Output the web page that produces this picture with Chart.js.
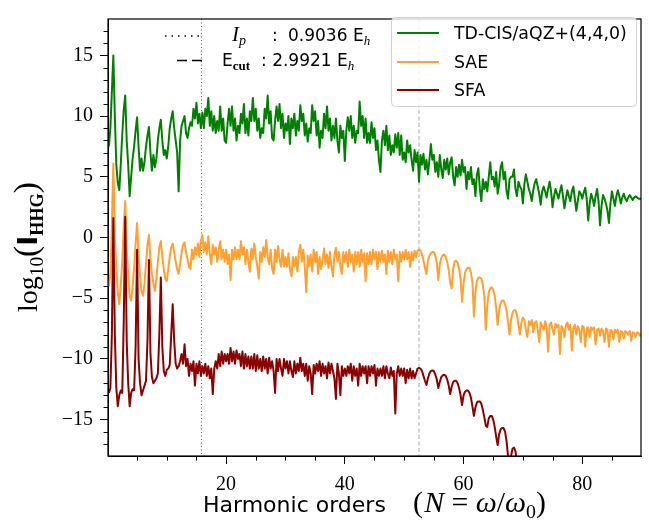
<!DOCTYPE html>
<html><head><meta charset="utf-8">
<script src="https://cdn.jsdelivr.net/npm/chart.js@4/dist/chart.umd.min.js"></script>
<style>html,body{margin:0;padding:0;background:#fff}#wrap{width:649px;height:525px}</style>
</head><body><div id="wrap"><canvas id="c" width="649" height="525"></canvas></div>
<script>
// ---- data ----
const harmonics = [
0.25,0.5,0.75,1,1.25,1.5,1.75,2, 2.25,2.5,2.75,3,3.25,3.5,3.75,4,
4.25,4.5,4.75,5,5.25,5.5,5.75,6, 6.25,6.5,6.75,7,7.25,7.5,7.75,8,
8.25,8.5,8.75,9,9.25,9.5,9.75,10, 10.25,10.5,10.75,11,11.25,11.5,11.75,12,
12.25,12.5,12.75,13,13.25,13.5,13.75,14, 14.25,14.5,14.75,15,15.25,15.5,15.75,16,
16.25,16.5,16.75,17,17.25,17.5,17.75,18, 18.25,18.5,18.75,19,19.25,19.5,19.75,20,
20.25,20.5,20.75,21,21.25,21.5,21.75,22, 22.25,22.5,22.75,23,23.25,23.5,23.75,24,
24.25,24.5,24.75,25,25.25,25.5,25.75,26, 26.25,26.5,26.75,27,27.25,27.5,27.75,28,
28.25,28.5,28.75,29,29.25,29.5,29.75,30, 30.25,30.5,30.75,31,31.25,31.5,31.75,32,
32.25,32.5,32.75,33,33.25,33.5,33.75,34, 34.25,34.5,34.75,35,35.25,35.5,35.75,36,
36.25,36.5,36.75,37,37.25,37.5,37.75,38, 38.25,38.5,38.75,39,39.25,39.5,39.75,40,
40.25,40.5,40.75,41,41.25,41.5,41.75,42, 42.25,42.5,42.75,43,43.25,43.5,43.75,44,
44.25,44.5,44.75,45,45.25,45.5,45.75,46, 46.25,46.5,46.75,47,47.25,47.5,47.75,48,
48.25,48.5,48.75,49,49.25,49.5,49.75,50, 50.25,50.5,50.75,51,51.25,51.5,51.75,52,
52.25,52.5,52.75,53,53.25,53.5,53.75,54, 54.25,54.5,54.75,55,55.25,55.5,55.75,56,
56.25,56.5,56.75,57,57.25,57.5,57.75,58, 58.25,58.5,58.75,59,59.25,59.5,59.75,60,
60.25,60.5,60.75,61,61.25,61.5,61.75,62, 62.25,62.5,62.75,63,63.25,63.5,63.75,64,
64.25,64.5,64.75,65,65.25,65.5,65.75,66, 66.25,66.5,66.75,67,67.25,67.5,67.75,68,
68.25,68.5,68.75,69,69.25,69.5,69.75,70, 70.25,70.5,70.75,71,71.25,71.5,71.75,72,
72.25,72.5,72.75,73,73.25,73.5,73.75,74, 74.25,74.5,74.75,75,75.25,75.5,75.75,76,
76.25,76.5,76.75,77,77.25,77.5,77.75,78, 78.25,78.5,78.75,79,79.25,79.5,79.75,80,
80.25,80.5,80.75,81,81.25,81.5,81.75,82, 82.25,82.5,82.75,83,83.25,83.5,83.75,84,
84.25,84.5,84.75,85,85.25,85.5,85.75,86, 86.25,86.5,86.75,87,87.25,87.5,87.75,88,
88.25,88.5,88.75,89,89.25,89.5,89.75,90];

const tdcis = [
7.5,9.0,12.0,15.0,10.0,6.0,4.5,3.9, 6.0,8.5,10.5,11.7,8.0,6.0,3.4,5.0,
6.5,7.5,8.8,9.9,7.5,5.5,6.5,5.5, 6.2,7.5,8.4,9.1,7.0,5.5,6.8,5.8,
6.5,8.0,9.0,9.7,8.0,6.8,7.2,6.5, 7.5,9.0,9.8,10.4,9.0,8.0,7.0,3.8,
8.0,9.2,9.6,10.0,8.6,8.2,9.0,9.5, 9.2,10.6,9.8,11.1,9.4,10.2,9.0,10.3,
9.0,10.6,10.0,11.5,9.2,10.4,8.8,10.0, 8.6,9.6,8.8,10.8,8.8,9.8,8.0,7.8,
9.4,10.6,9.2,10.8,8.8,9.8,8.0,9.2, 8.6,10.2,9.4,11.0,8.6,9.8,8.4,10.4,
9.6,11.5,9.6,10.6,8.8,9.8,8.2,9.0, 8.6,10.6,9.8,11.7,9.4,10.4,8.2,8.0,
9.6,10.8,9.6,11.0,9.0,10.2,8.2,9.4, 8.8,10.0,7.7,9.8,9.0,10.2,8.4,9.6,
8.8,10.9,9.6,10.2,8.4,9.4,7.9,9.0, 8.6,10.9,9.6,10.4,8.4,9.6,7.4,8.8,
8.2,10.2,9.0,10.8,8.8,9.8,8.0,9.2, 8.2,9.8,8.0,7.0,9.2,8.2,8.8,6.3,
8.8,9.9,8.8,10.0,8.2,9.2,7.8,8.8, 8.6,11.2,9.2,10.0,8.2,9.8,7.8,8.6,
7.8,9.5,8.2,9.0,7.2,8.0,6.4,5.4, 8.0,8.8,7.6,9.2,7.2,8.4,6.8,7.6,
7.0,8.5,7.4,8.6,6.8,8.4,6.4,7.0, 6.2,8.0,7.0,7.6,6.4,5.5,7.2,6.2,
7.0,4.6,6.8,6.0,6.9,5.6,6.4,5.2, 6.4,7.7,6.4,6.8,5.4,6.2,5.0,6.8,
5.6,4.9,6.4,5.6,6.5,5.2,6.2,6.6, 5.0,4.3,5.8,5.0,6.0,5.1,6.4,5.4,
5.8,4.0,5.4,4.8,5.8,4.4,4.8,3.4, 5.2,5.7,4.0,3.0,4.8,4.0,4.6,3.8,
5.0,6.2,4.8,5.0,4.2,5.4,3.6,4.4, 5.8,6.2,4.8,5.4,3.8,3.2,4.8,5.0,
5.0,5.6,4.0,3.4,4.6,4.2,4.0,2.8, 4.4,5.2,4.6,4.0,3.6,3.0,3.9,4.5,
4.8,4.2,3.6,2.7,3.8,4.2,3.8,3.3, 4.0,4.6,3.8,2.5,3.4,4.0,3.6,3.2,
3.8,4.3,3.4,2.4,3.2,3.9,3.4,3.0, 3.8,4.2,3.2,2.2,3.0,3.8,3.6,3.2,
3.7,4.1,3.2,1.4,2.8,3.6,3.2,2.6, 3.4,4.0,3.0,1.0,2.6,3.5,3.2,2.8,
2.2,1.2,2.8,3.8,3.2,2.6,3.4,3.9, 3.4,2.8,3.3,3.6,3.2,3.0,3.3,3.5,
3.3,3.1,3.3,3.4,3.3,3.2,3.2,3.2];

const sae = [
-4.0,-3.0,1.0,6.1,0.0,-2.5,-4.5,-5.5, -4.0,-2.0,1.0,3.0,-1.0,-3.0,-4.8,-5.2,
-4.0,-2.5,-0.5,1.2,-1.5,-3.2,-4.4,-4.8, -3.8,-2.2,-0.6,0.2,-1.8,-3.0,-3.8,-4.4,
-3.4,-2.0,-0.8,-0.3,-1.6,-2.6,-3.4,-3.6, -2.6,-1.6,-0.8,-0.5,-1.2,-2.0,-2.6,-3.0,
-2.2,-1.2,-0.6,-0.4,-1.2,-1.8,-2.4,-2.6, -1.0,-1.8,-0.8,-1.4,-0.5,-1.6,-0.3,0.2,
-1.2,-0.4,-1.4,0.1,-1.4,-2.2,-0.6,-1.4, -0.8,-2.0,-1.0,-0.3,-1.8,-1.0,-2.0,-1.0,
-2.2,-1.4,-3.5,-1.0,-1.8,-0.8,-1.8,-1.0, -1.8,-0.3,-1.4,-0.8,-2.2,-1.0,-2.0,-2.8,
-0.9,-1.8,-0.5,-1.6,-2.4,-3.4,-1.2,-2.0, -0.8,-1.6,-0.2,-1.6,-2.2,-1.0,-2.6,-3.0,
-1.0,-2.0,-0.7,-1.8,-2.4,-1.0,-2.4,-1.6, -2.4,-1.3,-2.6,-3.2,-1.6,-2.4,-1.6,-2.8,
-1.2,-0.6,-2.0,-1.0,-2.4,-4.5,-1.5,-2.4, -1.4,-2.8,-1.0,-2.0,-1.2,-3.0,-1.6,-2.6,
-1.8,-0.9,-2.2,-1.4,-2.5,-1.2,-2.4,-3.2, -1.4,-0.85,-2.0,-1.2,-2.4,-3.0,-1.2,-2.0,
-1.2,-2.4,-1.0,-2.0,-1.4,-2.8,-1.2,-2.2, -1.2,-2.4,-1.0,-2.0,-1.3,-3.6,-1.3,-2.2,
-1.2,-2.2,-1.0,-1.8,-1.2,-2.6,-1.2,-2.0, -1.1,-2.0,-1.4,-3.0,-1.1,-2.0,-1.2,-2.2,
-1.0,-1.8,-1.4,-3.6,-1.2,-2.0,-1.2,-1.8, -1.0,-1.8,-1.2,-2.4,-1.2,-1.9,-1.1,-1.6,
-1.1,-1.0,-1.1,-1.4,-1.9,-2.5,-3.0,-1.9, -1.5,-1.3,-1.2,-1.2,-1.5,-2.1,-3.5,-2.2,
-1.7,-1.45,-1.4,-1.6,-2.0,-2.7,-3.7,-4.2, -2.6,-2.0,-1.9,-2.1,-2.6,-3.4,-5.3,-3.8,
-2.9,-2.6,-2.5,-2.5,-2.9,-3.7,-6.5,-4.5, -3.6,-3.3,-3.3,-3.4,-3.9,-4.8,-7.6,-5.6,
-4.5,-4.2,-4.1,-4.3,-4.8,-5.8,-7.2,-6.0, -5.4,-5.2,-5.2,-5.5,-6.0,-7.0,-8.0,-6.8,
-6.2,-6.0,-6.0,-6.4,-7.2,-8.0,-7.0,-6.6, -6.8,-7.6,-8.2,-6.9,-7.2,-6.8,-7.8,-7.0,
-6.9,-7.6,-8.6,-7.0,-7.3,-7.6,-6.9,-7.4, -9.4,-7.2,-7.0,-7.6,-8.0,-7.1,-7.4,-7.2,
-9.6,-7.3,-7.5,-8.2,-7.2,-7.0,-7.6,-7.2, -9.3,-7.4,-7.2,-8.0,-7.3,-7.6,-8.6,-7.3,
-7.4,-9.0,-7.5,-7.4,-8.2,-7.4,-7.6,-7.4, -8.8,-7.6,-7.5,-8.1,-7.5,-7.7,-8.6,-7.5,
-7.6,-9.0,-7.6,-7.7,-8.4,-7.6,-7.8,-7.6, -8.6,-7.7,-7.8,-8.3,-7.7,-7.8,-8.0,-7.7,
-8.5,-7.8,-7.9,-8.2,-7.8,-7.9,-8.1,-7.9];

const sfa = [
-12.8,-12.4,-8.0,1.6,-8.0,-12.4,-13.9,-13.0, -12.6,-12.8,-7.0,1.7,-8.5,-12.0,-13.9,-12.8,
-12.5,-12.6,-9.0,-1.0,-10.0,-12.0,-13.0,-12.6, -12.2,-11.8,-8.5,-1.85,-9.5,-11.5,-12.0,-11.8,
-11.6,-11.2,-8.0,-3.3,-9.0,-11.0,-11.4,-10.9, -10.8,-10.5,-8.0,-5.5,-8.5,-10.4,-10.8,-10.6,
-10.2,-9.6,-10.4,-8.8,-10.6,-10.0,-11.4,-10.4, -11.0,-10.2,-12.2,-10.4,-11.2,-10.2,-11.4,-10.6,
-11.2,-10.4,-11.4,-10.6,-11.6,-10.8,-12.9,-10.8, -10.2,-10.8,-9.6,-10.6,-9.4,-10.4,-9.6,-10.2,
-9.6,-10.4,-9.1,-10.2,-9.4,-10.4,-9.3,-10.0, -9.6,-10.6,-9.4,-10.8,-9.6,-10.6,-9.8,-10.8,
-9.8,-10.8,-9.6,-11.0,-9.7,-10.8,-10.0,-11.0, -9.8,-10.8,-10.0,-11.2,-9.9,-10.8,-10.2,-11.0,
-12.8,-10.0,-11.0,-10.0,-10.8,-11.4,-10.0,-10.8, -10.2,-11.2,-10.2,-11.0,-11.5,-10.2,-11.2,-10.4,
-11.0,-9.9,-11.0,-10.4,-11.4,-10.4,-11.8,-10.6, -11.2,-12.9,-10.5,-11.2,-10.4,-11.0,-10.2,-11.4,
-10.4,-11.2,-10.6,-11.6,-10.3,-11.2,-10.4,-11.0, -11.6,-13.3,-10.4,-11.2,-13.0,-10.6,-11.4,-10.8,
-11.4,-10.6,-11.2,-10.4,-11.8,-10.6,-11.4,-10.8, -12.2,-10.4,-11.4,-10.6,-11.2,-10.6,-12.0,-10.6,
-11.4,-10.6,-11.2,-10.5,-12.2,-10.8,-11.4,-10.8, -11.4,-10.6,-11.6,-10.6,-11.2,-11.6,-10.7,-11.4,
-11.0,-14.5,-11.2,-10.6,-11.4,-10.8,-11.4,-10.8, -12.0,-10.9,-11.6,-10.8,-11.6,-11.0,-11.6,-11.2,
-10.8,-10.75,-10.8,-11.0,-11.4,-11.8,-12.15,-11.6, -11.2,-11.0,-10.96,-11.0,-11.3,-11.7,-12.4,-11.9,
-11.5,-11.35,-11.3,-11.4,-11.7,-12.2,-12.9,-12.3, -11.9,-11.8,-11.8,-12.0,-12.4,-13.0,-13.8,-13.0,
-12.7,-12.6,-12.6,-12.8,-13.2,-13.9,-14.7,-14.0, -13.6,-13.5,-13.5,-13.7,-14.2,-14.8,-15.5,-15.6,
-14.9,-14.7,-14.7,-15.0,-15.6,-16.4,-17.1,-16.2, -15.8,-15.7,-15.7,-16.0,-16.8,-18.0,-19.0,-18.0,
-17.4,-17.3,-17.6,-18.5,-20.0,-21.0,null,null, null,null,null,null,null,null,null,null,
null,null,null,null,null,null,null,null, null,null,null,null,null,null,null,null,
null,null,null,null,null,null,null,null, null,null,null,null,null,null,null,null,
null,null,null,null,null,null,null,null, null,null,null,null,null,null,null,null,
null,null,null,null,null,null,null,null, null,null,null,null,null,null,null,null,
null,null,null,null,null,null,null,null];

const seriesNames = ['TD-CIS/aQZ+(4,4,0)', 'SAE', 'SFA'];
const seriesColors = ['#008000', '#ffa030', '#8b0000'];

const xMajorTicks = [20, 40, 60, 80];
const xMinorTicks = [5,10,15,25,30,35,45,50,55,65,70,75,85];
const yMajorTicks = [-15,-10,-5,0,5,10,15];
const yMinorTicks = [-17,-16,-14,-13,-12,-11,-9,-8,-7,-6,-4,-3,-2,-1,1,2,3,4,6,7,8,9,11,12,13,14,16,17];

const ipHarmonic = 15.85;      // Ip / omega0
const cutoffHarmonic = 52.5;   // Ecut / omega0
const ipValue = '0.9036';
const ecutValue = '2.9921';

// ---- helpers ----
const SERIF = '"Liberation Serif", "DejaVu Serif", serif';
const SANS = '"DejaVu Sans", sans-serif';
function drawRuns(ctx, runs, x, y, scale) {
  scale = scale || 1;
  let cx = x;
  runs.forEach(r => {
    ctx.font = r.font.replace(/(\d+(\.\d+)?)px/, (m, n) => (parseFloat(n) * scale) + 'px');
    ctx.fillText(r.t, cx, y + (r.dy || 0) * scale);
    cx += ctx.measureText(r.t).width + (r.gap || 0) * scale;
  });
  return cx - x;
}
function runsWidth(ctx, runs) {
  let w = 0;
  runs.forEach(r => { ctx.font = r.font; w += ctx.measureText(r.t).width + (r.gap || 0); });
  return w;
}

const frame = {
  id: 'frame',
  beforeDatasetsDraw(chart) {
    const { ctx, chartArea: a, scales: { x } } = chart;
    ctx.save();
    ctx.lineWidth = 1;
    let px = x.getPixelForValue(ipHarmonic);
    ctx.strokeStyle = '#555';
    ctx.setLineDash([1, 2.5]);
    ctx.beginPath(); ctx.moveTo(px, a.top); ctx.lineTo(px, a.bottom); ctx.stroke();
    px = x.getPixelForValue(cutoffHarmonic);
    ctx.strokeStyle = '#aaa';
    ctx.setLineDash([4, 2.5]);
    ctx.beginPath(); ctx.moveTo(px, a.top); ctx.lineTo(px, a.bottom); ctx.stroke();
    ctx.restore();
  },
  afterDatasetsDraw(chart) {
    const { ctx, chartArea: a, scales: { x, y } } = chart;
    ctx.save();
    ctx.strokeStyle = '#000'; ctx.lineWidth = 1.2;
    ctx.strokeRect(a.left, a.top, a.right - a.left, a.bottom - a.top);
    ctx.lineWidth = 1;
    ctx.beginPath();
    xMinorTicks.forEach(v => { const p = Math.round(x.getPixelForValue(v)) + 0.5; ctx.moveTo(p, a.bottom); ctx.lineTo(p, a.bottom + 4.5); });
    yMinorTicks.forEach(v => { const p = Math.round(y.getPixelForValue(v)) + 0.5; ctx.moveTo(a.left - 4.5, p); ctx.lineTo(a.left, p); });
    ctx.stroke();

    // legend box
    const bx = 391.5, by = 17.5, bw = 245, bh = 89, r = 4;
    ctx.beginPath();
    ctx.moveTo(bx + r, by); ctx.lineTo(bx + bw - r, by); ctx.quadraticCurveTo(bx + bw, by, bx + bw, by + r);
    ctx.lineTo(bx + bw, by + bh - r); ctx.quadraticCurveTo(bx + bw, by + bh, bx + bw - r, by + bh);
    ctx.lineTo(bx + r, by + bh); ctx.quadraticCurveTo(bx, by + bh, bx, by + bh - r);
    ctx.lineTo(bx, by + r); ctx.quadraticCurveTo(bx, by, bx + r, by); ctx.closePath();
    ctx.fillStyle = 'rgba(255,255,255,0.8)'; ctx.fill();
    ctx.strokeStyle = '#d0d0d0'; ctx.lineWidth = 1; ctx.stroke();
    ctx.font = '17px ' + SANS;
    const fs = 17 * 173 / ctx.measureText(seriesNames[0]).width;
    ctx.font = fs + 'px ' + SANS;
    ctx.textBaseline = 'middle';
    const rows = [33, 62, 90];
    seriesNames.forEach((n, i) => {
      ctx.strokeStyle = seriesColors[i]; ctx.lineWidth = 2;
      ctx.beginPath(); ctx.moveTo(397, rows[i]); ctx.lineTo(439, rows[i]); ctx.stroke();
      ctx.fillStyle = '#000'; ctx.fillText(n, 454, rows[i] + 1);
    });

    // Ip / Ecut annotation
    ctx.textBaseline = 'alphabetic';
    ctx.fillStyle = '#000'; ctx.strokeStyle = '#000'; ctx.lineWidth = 1.5;
    ctx.setLineDash([1.5, 5]);
    ctx.beginPath(); ctx.moveTo(165, 36); ctx.lineTo(204, 36); ctx.stroke();
    ctx.setLineDash([10, 5]);
    ctx.beginPath(); ctx.moveTo(177, 60.5); ctx.lineTo(204, 60.5); ctx.stroke();
    ctx.setLineDash([]);
    drawRuns(ctx, [{ t: 'I', font: 'italic 21px ' + SERIF }, { t: 'p', font: 'italic 14px ' + SERIF, dy: 4 }], 232, 41);
    drawRuns(ctx, [{ t: ':', font: '17px ' + SANS }], 272, 41);
    drawRuns(ctx, [{ t: ipValue + ' E', font: '17px ' + SANS }, { t: 'h', font: 'italic 13px ' + SERIF, dy: 4 }], 288, 41);
    drawRuns(ctx, [{ t: 'E', font: '17px ' + SANS }, { t: 'cut', font: 'bold 13px ' + SERIF, dy: 4 }], 222, 66);
    drawRuns(ctx, [{ t: ': ' + ecutValue + ' E', font: '17px ' + SANS }, { t: 'h', font: 'italic 13px ' + SERIF, dy: 4 }], 261, 66);

    ctx.restore();
  },
  afterDraw(chart) {
    const ctx = chart.ctx;
    ctx.save();
    ctx.fillStyle = '#000';
    ctx.textBaseline = 'alphabetic';
    drawRuns(ctx, [{ t: 'Harmonic orders', font: '22px ' + SANS }], 203, 512);
    const mx = [
      { t: '(', font: '24px ' + SERIF, gap: 1 },
      { t: 'N', font: 'italic 24px ' + SERIF, gap: 6 },
      { t: '=', font: '24px ' + SERIF, gap: 6 },
      { t: 'ω', font: 'italic 24px ' + SERIF },
      { t: '/', font: '24px ' + SERIF },
      { t: 'ω', font: 'italic 24px ' + SERIF },
      { t: '0', font: '16px ' + SERIF, dy: 5 },
      { t: ')', font: '24px ' + SERIF }
    ];
    const mw = runsWidth(ctx, mx);
    drawRuns(ctx, mx, 413, 512, 133 / mw);
    const yr = [
      { t: 'log', font: '26px ' + SERIF },
      { t: '10', font: '18px ' + SERIF, dy: 6 },
      { t: '(', font: '31px ' + SERIF },
      { t: 'I', font: 'bold 25px ' + SANS },
      { t: 'HHG', font: 'bold 17px ' + SERIF, dy: 6 },
      { t: ')', font: '31px ' + SERIF }
    ];
    const yw = runsWidth(ctx, yr);
    const sc = 130 / yw;
    ctx.translate(37, 247);
    ctx.rotate(-Math.PI / 2);
    drawRuns(ctx, yr, -65, 0, sc);
    ctx.restore();
  }
};

const datasets = [tdcis, sae, sfa].map((vals, i) => ({
  label: seriesNames[i],
  data: harmonics.map((h, k) => ({ x: h, y: vals[k] })),
  borderColor: seriesColors[i],
  backgroundColor: seriesColors[i],
  borderWidth: 2,
  borderJoinStyle: 'round',
  pointRadius: 0,
  tension: 0,
  spanGaps: false,
  order: 3 - i
}));

new Chart(document.getElementById('c'), {
  type: 'line',
  data: { datasets },
  options: {
    responsive: false,
    animation: false,
    events: [],
    layout: { padding: { left: 0, right: 8, top: 13, bottom: 0 } },
    plugins: { legend: { display: false }, tooltip: { enabled: false } },
    scales: {
      x: {
        type: 'linear', min: 0.1, max: 89.9,
        afterBuildTicks: s => { s.ticks = xMajorTicks.map(v => ({ value: v })); },
        afterFit: s => { s.height = 69; },
        grid: { display: true, drawOnChartArea: false, drawTicks: true, tickLength: 8, color: '#000' },
        border: { display: true, color: '#000', width: 1 },
        ticks: { color: '#000', font: { family: 'Liberation Serif', size: 20 }, padding: 9, maxRotation: 0 }
      },
      y: {
        type: 'linear', min: -18, max: 18,
        afterBuildTicks: s => { s.ticks = yMajorTicks.map(v => ({ value: v })); },
        afterFit: s => { s.width = 108; },
        grid: { display: true, drawOnChartArea: false, drawTicks: true, tickLength: 8, color: '#000' },
        border: { display: true, color: '#000', width: 1 },
        ticks: { color: '#000', font: { family: 'Liberation Serif', size: 20 }, padding: 7,
          callback: v => (v < 0 ? '\u2212' + Math.abs(v) : String(v)) }
      }
    }
  },
  plugins: [frame]
});
</script></body></html>
